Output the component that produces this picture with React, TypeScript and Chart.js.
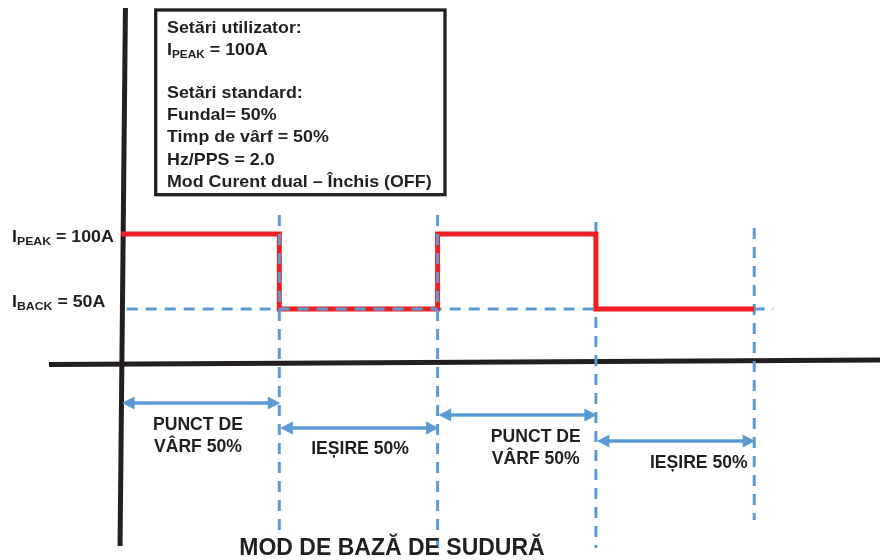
import React, { useEffect, useRef } from "react";
import { Chart, registerables } from "chart.js";

Chart.register(...registerables);

// ---------- DATA ----------
const phaseStarts = [0, 1, 2, 3, 4]; // half-period boundaries (time units)
const phaseLevels = [100, 50, 100, 50]; // current in each phase (A)
const peakCurrent = 100;
const backCurrent = 50;
const phaseLabels = [
  ["PUNCT DE", "VÂRF 50%"],
  ["IEȘIRE 50%"],
  ["PUNCT DE", "VÂRF 50%"],
  ["IEȘIRE 50%"],
];
const userSettingsTitle = "Setări utilizator:";
const userSettingsPeak = ["I", "PEAK", " = 100A"];
const standardSettingsTitle = "Setări standard:";
const standardSettings = [
  "Fundal= 50%",
  "Timp de vârf = 50%",
  "Hz/PPS = 2.0",
  "Mod Curent dual – Închis (OFF)",
];
const peakLabel = ["I", "PEAK", " = 100A"];
const backLabel = ["I", "BACK", " = 50A"];
const chartTitle = "MOD DE BAZĂ DE SUDURĂ";

// ---------- LAYOUT / STYLE ----------
const W = 880;
const H = 560;
const T0_PX = 121;
const PX_PER_T = 158.3;
const A_MAX_VAL = 256;
const PX_PER_A = 1.5;
const RED = "#ed1f24";
const BLUE = "#5b9bd5";
const INK = "#231f20";
const FONT = '"Liberation Sans", Arial, Helvetica, sans-serif';
const DASH = [11, 8];

// guide line extents (value units)
const guideTops = [112.7, 112.7, 108, 104];
const guideBottoms = [-109.3, -109.3, -109.3, -90.7];
const guideOnTop = [true, true, false, false];
const baselineSpan = [0.036, 2, 4.12];
const vAxis = [
  { x: 0.028, y: 250.7 },
  { x: -0.006, y: -108 },
];
const hAxis = [
  { x: -0.455, y: 13 },
  { x: 4.8, y: 16 },
];
const arrowRows = [-12.67, -29.33, -20.67, -38];
const labelCenters = [0.486, 1.51, 2.62, 3.65];

function drawRich(
  ctx: CanvasRenderingContext2D,
  x: number,
  y: number,
  parts: string[],
  size: number,
  sx: number,
  subSize: number,
  subDrop: number
) {
  ctx.save();
  ctx.translate(x, y);
  ctx.scale(sx, 1);
  let cx = 0;
  parts.forEach((p, i) => {
    const isSub = parts.length === 3 && i === 1;
    ctx.font = `bold ${isSub ? subSize : size}px ${FONT}`;
    ctx.fillText(p, cx, isSub ? subDrop : 0);
    cx += ctx.measureText(p).width;
  });
  ctx.restore();
}

function drawCentered(
  ctx: CanvasRenderingContext2D,
  cx: number,
  y: number,
  text: string,
  size: number,
  sx: number
) {
  ctx.save();
  ctx.font = `bold ${size}px ${FONT}`;
  const w = ctx.measureText(text).width * sx;
  ctx.translate(cx - w / 2, y);
  ctx.scale(sx, 1);
  ctx.fillText(text, 0, 0);
  ctx.restore();
}

const overlayPlugin = {
  id: "overlay",
  afterDatasetsDraw(chart: any) {
    const ctx: CanvasRenderingContext2D = chart.ctx;
    const xs = chart.scales.x;
    const ys = chart.scales.y;
    ctx.save();
    // arrows
    ctx.strokeStyle = BLUE;
    ctx.fillStyle = BLUE;
    ctx.lineWidth = 3.6;
    const head = 12.5;
    const hw = 6.5;
    for (let i = 0; i < phaseLevels.length; i++) {
      const x1 = xs.getPixelForValue(phaseStarts[i]) + 1;
      const x2 = xs.getPixelForValue(phaseStarts[i + 1]) + 1;
      const yy = ys.getPixelForValue(arrowRows[i]);
      ctx.beginPath();
      ctx.moveTo(x1 + head - 1, yy);
      ctx.lineTo(x2 - head + 1, yy);
      ctx.stroke();
      ctx.beginPath();
      ctx.moveTo(x1, yy);
      ctx.lineTo(x1 + head, yy - hw);
      ctx.lineTo(x1 + head, yy + hw);
      ctx.closePath();
      ctx.fill();
      ctx.beginPath();
      ctx.moveTo(x2, yy);
      ctx.lineTo(x2 - head, yy - hw);
      ctx.lineTo(x2 - head, yy + hw);
      ctx.closePath();
      ctx.fill();
    }
    // phase labels
    ctx.fillStyle = INK;
    ctx.textBaseline = "alphabetic";
    for (let i = 0; i < phaseLabels.length; i++) {
      const cx = xs.getPixelForValue(labelCenters[i]);
      const by = ys.getPixelForValue(arrowRows[i]) + 26.5;
      phaseLabels[i].forEach((line, j) => {
        drawCentered(ctx, cx, by + j * 22, line, 17.6, 1.0);
      });
    }
    // y labels
    drawRich(ctx, 12, ys.getPixelForValue(peakCurrent) + 7.7, peakLabel, 16.6, 1.07, 11.5, 3.5);
    drawRich(ctx, 12, ys.getPixelForValue(backCurrent) - 2.5, backLabel, 16.6, 1.07, 11.5, 3.5);
    // settings box
    ctx.strokeStyle = INK;
    ctx.lineWidth = 3.3;
    ctx.strokeRect(155.7, 10, 289.3, 184.7);
    const tx = 167;
    let by = 33;
    const lh = 22.3;
    drawRich(ctx, tx, by, [userSettingsTitle], 16.6, 1.075, 11, 3);
    by += lh;
    drawRich(ctx, tx, by, userSettingsPeak, 16.6, 1.075, 11, 3);
    by += lh + 20;
    drawRich(ctx, tx, by, [standardSettingsTitle], 16.6, 1.075, 11, 3);
    standardSettings.forEach((s) => {
      by += lh;
      drawRich(ctx, tx, by, [s], 16.6, 1.075, 11, 3);
    });
    // title
    drawCentered(ctx, 392, 554.5, chartTitle, 23, 1.0);
    ctx.restore();
  },
};

export default function App() {
  const ref = useRef<HTMLCanvasElement | null>(null);
  useEffect(() => {
    if (!ref.current) return;
    const wave = phaseLevels.map((v, i) => ({ x: phaseStarts[i], y: v }));
    wave.push({ x: phaseStarts[phaseStarts.length - 1], y: phaseLevels[phaseLevels.length - 1] });
    const guides = phaseStarts.slice(1).map((t, i) => ({
      data: [
        { x: t, y: guideTops[i] },
        { x: t, y: guideBottoms[i] },
      ],
      borderColor: BLUE,
      borderWidth: 3,
      borderDash: DASH,
      pointRadius: 0,
      fill: false,
      order: guideOnTop[i] ? 1 : 3,
    }));
    const period = DASH[0] + DASH[1];
    const secondOffset =
      (((baselineSpan[1] - baselineSpan[0]) * PX_PER_T) % period + period) % period;
    const chart = new Chart(ref.current, {
      type: "line",
      data: {
        datasets: [
          ...guides,
          {
            data: [
              { x: baselineSpan[0], y: backCurrent },
              { x: baselineSpan[1], y: backCurrent },
            ],
            borderColor: BLUE,
            borderWidth: 3,
            borderDash: DASH,
            pointRadius: 0,
            fill: false,
            order: 1,
          },
          {
            data: [
              { x: baselineSpan[1], y: backCurrent },
              { x: baselineSpan[2], y: backCurrent },
            ],
            borderColor: BLUE,
            borderWidth: 3,
            borderDash: DASH,
            borderDashOffset: secondOffset,
            pointRadius: 0,
            fill: false,
            order: 3,
          },
          {
            data: wave,
            stepped: "before",
            borderColor: RED,
            borderWidth: 5,
            borderJoinStyle: "miter",
            borderCapStyle: "butt",
            pointRadius: 0,
            fill: false,
            order: 2,
          },
          {
            data: vAxis,
            borderColor: INK,
            borderWidth: 5,
            pointRadius: 0,
            fill: false,
            order: 4,
          },
          {
            data: hAxis,
            borderColor: INK,
            borderWidth: 5,
            pointRadius: 0,
            fill: false,
            order: 4,
          },
        ] as any,
      },
      options: {
        responsive: false,
        animation: false,
        events: [],
        layout: { padding: 0 },
        plugins: { legend: { display: false }, tooltip: { enabled: false } },
        scales: {
          x: {
            type: "linear",
            display: false,
            min: -T0_PX / PX_PER_T,
            max: (W - T0_PX) / PX_PER_T,
          },
          y: {
            type: "linear",
            display: false,
            max: A_MAX_VAL,
            min: A_MAX_VAL - H / PX_PER_A,
          },
        },
      },
      plugins: [overlayPlugin],
    });
    return () => chart.destroy();
  }, []);
  return (
    <div style={{ position: "absolute", left: 0, top: 0, width: W, height: H, background: "#fff" }}>
      <canvas ref={ref} width={W} height={H} style={{ width: W, height: H }} />
    </div>
  );
}
